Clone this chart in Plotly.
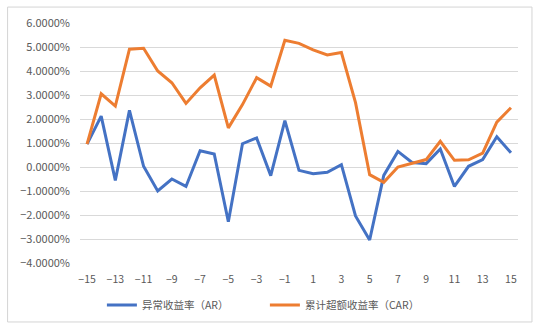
import plotly.graph_objects as go

# Event window (days relative to the announcement)
days = list(range(-15, 16))

# Abnormal return (AR), %
ar = [0.95, 2.12, -0.56, 2.36, 0.03, -1.00, -0.50, -0.81, 0.68, 0.54,
      -2.28, 0.97, 1.21, -0.36, 1.93, -0.14, -0.28, -0.22, 0.10, -2.04,
      -3.04, -0.35, 0.65, 0.19, 0.14, 0.75, -0.81, 0.03, 0.31, 1.26, 0.59]

# Cumulative abnormal return (CAR), %
car = [0.95, 3.05, 2.54, 4.91, 4.95, 4.00, 3.51, 2.65, 3.30, 3.83,
       1.63, 2.60, 3.72, 3.37, 5.28, 5.15, 4.88, 4.67, 4.77, 2.68,
       -0.32, -0.64, 0.00, 0.17, 0.31, 1.07, 0.28, 0.30, 0.58, 1.87, 2.47]

series_names = ["异常收益率（AR）", "累计超额收益率（CAR）"]
x_ticks = list(range(-15, 16, 2))
y_ticks = [6, 5, 4, 3, 2, 1, 0, -1, -2, -3, -4]


def minus(s):
    return s.replace("-", "\u2212")


FONT = "Noto Sans CJK SC, Noto Sans, sans-serif"
GREY_TEXT = "#595959"
GRID = "#D9D9D9"

# plot area geometry (pixels)
LEFT, TOP = 80, 23.4
PLOT_W, PLOT_H = 438.5, 239.3
BOTTOM = TOP + PLOT_H

fig = go.Figure()
fig.add_trace(go.Scatter(x=days, y=ar, mode="lines", name=series_names[0],
                         line=dict(color="#4472C4", width=3)))
fig.add_trace(go.Scatter(x=days, y=car, mode="lines", name=series_names[1],
                         line=dict(color="#ED7D31", width=3)))

# Light outer frame around the whole chart area, on pixel centres
fig.add_shape(type="rect", xref="paper", yref="paper",
              x0=(7.5 - LEFT) / PLOT_W, x1=(532.5 - LEFT) / PLOT_W,
              y0=(BOTTOM - 321.5) / PLOT_H, y1=(BOTTOM - 7.5) / PLOT_H,
              line=dict(color="#D4D4D4", width=1),
              layer="above")

fig.update_layout(
    width=540, height=327,
    margin=dict(l=LEFT, r=540 - LEFT - PLOT_W, t=TOP, b=327 - BOTTOM,
                pad=0, autoexpand=False),
    paper_bgcolor="white", plot_bgcolor="white",
    font=dict(family=FONT, size=10.5, color=GREY_TEXT),
    showlegend=True,
    legend=dict(orientation="h", x=0.05, xanchor="left",
                y=-42 / PLOT_H, yanchor="middle",
                font=dict(family=FONT, size=10.5, color=GREY_TEXT),
                entrywidth=118, entrywidthmode="pixels",
                bgcolor="rgba(0,0,0,0)"),
    xaxis=dict(range=[-15.5, 15.5], tickmode="array", tickvals=x_ticks,
               ticktext=[minus(str(v)) for v in x_ticks],
               showgrid=False, zeroline=False, showline=False, ticks="",
               ticklabelstandoff=8,
               tickfont=dict(size=10.5, color=GREY_TEXT)),
    yaxis=dict(range=[-4, 6], tickmode="array", tickvals=y_ticks,
               ticktext=[minus(f"{v:.4f}%") for v in y_ticks],
               showgrid=True, gridcolor=GRID, gridwidth=1,
               zeroline=False, showline=False, ticks="",
               ticklabelstandoff=9,
               tickfont=dict(size=11, color=GREY_TEXT)),
)

fig.write_html("out.html")
